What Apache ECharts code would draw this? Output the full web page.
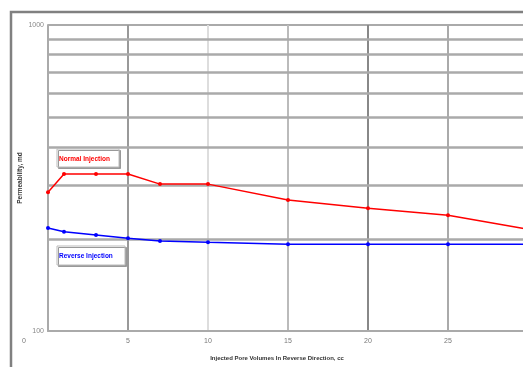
<!DOCTYPE html>
<html>
<head>
<meta charset="utf-8">
<script src="https://cdn.jsdelivr.net/npm/echarts@6/dist/echarts.min.js"></script>
<style>
  html, body { margin: 0; padding: 0; background: #fff; overflow: hidden; width: 523px; height: 367px; }
  #chart { width: 560px; height: 367px; }
</style>
</head>
<body>
<div id="chart"></div>
<script>
// pore volumes injected (cc)
const poreVolumes = [0, 1, 3, 5, 7, 10, 15, 20, 25, 30];
// permeability, md
const normalInjection = [284, 326, 326, 326, 302, 302, 268, 252, 239, 215];
const reverseInjection = [217, 211, 206, 201, 197, 195, 192, 192, 192, 192];
const minorGridValues = [200, 300, 400, 500, 600, 700, 800, 900];

const chart = echarts.init(document.getElementById('chart'));
const font = 'Liberation Sans, Arial, sans-serif';

const toPairs = (vals) => vals.map((v, i) => [poreVolumes[i], v]);

const option = {
  animation: false,
  textStyle: { fontFamily: font },
  grid: { left: 48, top: 25, width: 480, height: 306 },
  xAxis: {
    type: 'value',
    min: 0,
    max: 30,
    interval: 5,
    name: 'Injected Pore Volumes In Reverse Direction, cc',
    nameLocation: 'middle',
    nameGap: 24,
    nameMoveOverlap: false,
    nameTextStyle: { fontSize: 6, fontWeight: 'bold', color: '#333', padding: [0, 22, 0, 0] },
    axisLine: { lineStyle: { color: '#aaa', width: 2 } },
    axisTick: { show: false },
    axisLabel: {
      fontSize: 7,
      color: '#777',
      margin: 7,
      formatter: (v) => (v === 0 ? '{z|0}' : String(v)),
      rich: { z: { fontSize: 7, color: '#777', padding: [0, 48, 0, 0] } }
    },
    splitLine: {
      show: true,
      lineStyle: { color: ['#aaa', '#999', '#ddd', '#bbb', '#888', '#aaa', '#aaa'], width: 2 }
    }
  },
  yAxis: {
    type: 'log',
    logBase: 10,
    min: 100,
    max: 1000,
    name: 'Permeability, md',
    nameLocation: 'middle',
    nameGap: 24,
    nameMoveOverlap: false,
    nameTextStyle: { fontSize: 6.5, fontWeight: 'bold', color: '#333' },
    axisLine: { show: true, lineStyle: { color: '#aaa', width: 2 } },
    axisTick: { show: false },
    axisLabel: { fontSize: 7, color: '#888', margin: 4, formatter: (v) => String(Math.round(v)) },
    splitLine: { show: true, lineStyle: { color: '#aaa', width: 2 } }
  },
  graphic: [
    {
      type: 'rect',
      shape: { x: 11, y: 12, width: 700, height: 500 },
      style: { fill: 'none', stroke: '#808080', lineWidth: 2.5 },
      z: 100
    },
    {
      type: 'rect',
      shape: { x: 57, y: 149, width: 62, height: 18 },
      style: { fill: '#fff', stroke: '#bbb', lineWidth: 1, shadowColor: '#999', shadowOffsetX: 1.5, shadowOffsetY: 1.5 },
      z: 50
    },
    {
      type: 'text',
      x: 59, y: 159,
      style: { text: 'Normal Injection', fill: '#ff0000', font: 'bold 6.5px ' + font, verticalAlign: 'middle' },
      z: 51
    },
    {
      type: 'rect',
      shape: { x: 57, y: 246, width: 68, height: 19 },
      style: { fill: '#fff', stroke: '#bbb', lineWidth: 1, shadowColor: '#999', shadowOffsetX: 1.5, shadowOffsetY: 1.5 },
      z: 50
    },
    {
      type: 'text',
      x: 59, y: 256,
      style: { text: 'Reverse Injection', fill: '#0000ff', font: 'bold 6.5px ' + font, verticalAlign: 'middle' },
      z: 51
    }
  ],
  series: [
    {
      name: 'Normal Injection',
      type: 'line',
      data: toPairs(normalInjection),
      symbol: 'circle',
      symbolSize: 4,
      lineStyle: { color: '#ff0000', width: 1.5 },
      itemStyle: { color: '#ff0000' },
      z: 10,
      markLine: {
        silent: true,
        symbol: 'none',
        label: { show: false },
        lineStyle: { color: '#aaa', width: 2.5, type: 'solid' },
        data: minorGridValues.map((v) => ({ yAxis: v })),
        z: 1
      }
    },
    {
      name: 'Reverse Injection',
      type: 'line',
      data: toPairs(reverseInjection),
      symbol: 'circle',
      symbolSize: 4,
      lineStyle: { color: '#0000ff', width: 1.5 },
      itemStyle: { color: '#0000ff' },
      z: 10
    }
  ]
};

chart.setOption(option);
</script>
</body>
</html>
